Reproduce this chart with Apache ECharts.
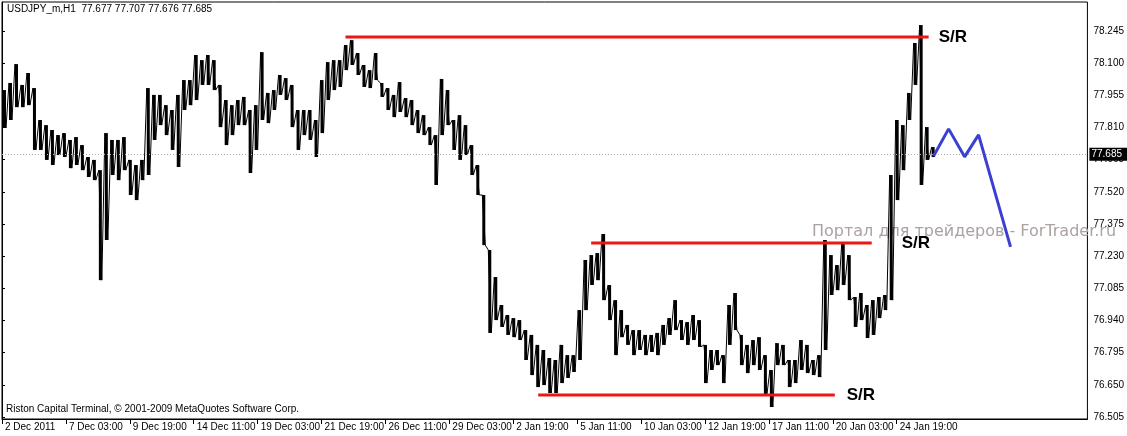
<!DOCTYPE html>
<html>
<head>
<meta charset="utf-8">
<title>USDJPY_m,H1</title>
<script src="https://cdn.jsdelivr.net/npm/echarts@6/dist/echarts.min.js"></script>
<style>
  html, body { margin: 0; padding: 0; background: #fff; }
  #chart { width: 1127px; height: 436px; }
</style>
</head>
<body>
<div id="chart"></div>
<script>
// H1 bars, sampled in blocks of 6 bars: high and low of each block
var STEP = 6;
var blockHigh = [
  77.979, 78.011, 78.096, 78.002, 78.056, 77.988, 77.844, 77.821, 77.799, 77.776,
  77.785, 77.754, 77.767, 77.731, 77.677, 77.664, 77.618, 77.785, 77.754, 77.754,
  77.767, 77.664, 77.641, 77.664, 77.988, 77.957, 77.957, 77.911, 77.889, 77.957,
  78.024, 78.024, 78.137, 78.114, 78.137, 78.114, 78.002, 77.934, 77.911, 77.934,
  77.948, 77.889, 77.911, 78.150, 77.966, 77.979, 78.047, 78.033, 78.002, 77.889,
  77.889, 77.889, 77.844, 78.024, 78.105, 78.114, 78.114, 78.182, 78.204, 78.146,
  78.092, 78.069, 78.146, 78.011, 77.988, 77.957, 78.015, 77.943, 77.934, 77.889,
  77.866, 77.812, 77.776, 78.029, 77.979, 77.844, 77.866, 77.821, 77.731, 77.641,
  77.506, 77.258, 77.136, 77.010, 76.965, 76.951, 76.942, 76.897, 76.875, 76.830,
  76.807, 76.771, 76.762, 76.830, 76.784, 76.784, 76.987, 77.213, 77.235, 77.244,
  77.330, 77.100, 77.032, 76.987, 76.920, 76.897, 76.897, 76.875, 76.875, 76.884,
  76.920, 76.951, 77.032, 76.942, 76.933, 76.965, 76.942, 76.830, 76.807, 76.807,
  76.784, 77.010, 77.064, 76.875, 76.830, 76.852, 76.865, 76.784, 76.717, 76.838,
  76.830, 76.762, 76.762, 76.852, 76.830, 76.762, 76.784, 77.303, 77.235, 77.190,
  77.289, 77.235, 77.046, 77.064, 77.010, 77.032, 77.046, 77.055, 77.596, 77.844,
  77.821, 77.966, 78.191, 78.272, 77.812, 77.722
];
var blockLow = [
  77.808, 77.844, 77.902, 77.902, 77.911, 77.709, 77.709, 77.664, 77.641, 77.686,
  77.677, 77.627, 77.641, 77.618, 77.587, 77.573, 77.122, 77.303, 77.596, 77.573,
  77.618, 77.506, 77.483, 77.573, 77.596, 77.754, 77.821, 77.776, 77.709, 77.632,
  77.889, 77.911, 77.934, 78.002, 78.002, 77.979, 77.812, 77.731, 77.776, 77.821,
  77.821, 77.605, 77.709, 77.844, 77.830, 77.889, 77.957, 77.934, 77.812, 77.709,
  77.776, 77.754, 77.677, 77.785, 77.934, 77.979, 77.993, 78.069, 78.092, 78.047,
  77.993, 77.988, 78.024, 77.948, 77.889, 77.857, 77.880, 77.857, 77.821, 77.785,
  77.776, 77.731, 77.551, 77.776, 77.821, 77.709, 77.664, 77.686, 77.596, 77.506,
  77.280, 76.884, 76.942, 76.911, 76.875, 76.865, 76.852, 76.762, 76.694, 76.640,
  76.649, 76.613, 76.613, 76.658, 76.681, 76.708, 76.762, 76.987, 77.100, 77.122,
  77.032, 76.942, 76.784, 76.865, 76.830, 76.784, 76.807, 76.784, 76.798, 76.784,
  76.830, 76.875, 76.897, 76.852, 76.830, 76.852, 76.821, 76.658, 76.717, 76.739,
  76.658, 76.830, 76.897, 76.739, 76.703, 76.739, 76.717, 76.604, 76.550, 76.739,
  76.739, 76.640, 76.658, 76.717, 76.703, 76.694, 76.685, 76.807, 77.055, 77.077,
  77.100, 77.032, 76.911, 76.942, 76.861, 76.875, 76.951, 76.987, 77.032, 77.483,
  77.618, 77.844, 78.002, 77.551, 77.664, 77.677
];
var lastBar = 933;
var lastClose = 77.685;
var headerText = 'USDJPY_m,H1  77.677 77.707 77.676 77.685';

// forecast (blue) path
var forecastBars = [933, 948, 964, 978, 1010];
var forecastPrices = [77.682, 77.804, 77.678, 77.777, 77.272];

// support / resistance levels
var srPrices = [78.218, 77.289, 76.604];
var srStart = [344, 590, 537];
var srEnd = [928, 871, 834];
var srGap = [10, 30, 12];

// axes
var timeLabels = ['2 Dec 2011', '7 Dec 03:00', '9 Dec 19:00', '14 Dec 11:00', '19 Dec 03:00',
  '21 Dec 19:00', '26 Dec 11:00', '29 Dec 03:00', '2 Jan 19:00', '5 Jan 11:00',
  '10 Jan 03:00', '12 Jan 19:00', '17 Jan 11:00', '20 Jan 03:00', '24 Jan 19:00'];
var barsPerLabel = 64;
var priceTicks = [76.505, 76.650, 76.795, 76.940, 77.085, 77.230, 77.375, 77.520,
  77.665, 77.810, 77.955, 78.100, 78.245];

var chart = echarts.init(document.getElementById('chart'));

// price path: high then low of every block
var pricePath = [];
for (var k = 0; k < blockHigh.length; k++) {
  pricePath.push([k * STEP + 1, blockHigh[k]]);
  pricePath.push([k * STEP + 4, blockLow[k]]);
}
pricePath.push([lastBar, lastClose]);

var blockRange = blockHigh.map(function (h, k) { return [k * STEP + 1, h, blockLow[k]]; });

var timeTickValues = timeLabels.map(function (t, i) { return i * barsPerLabel; });

var series = [];
// block high-low ranges
series.push({
  type: 'custom',
  data: blockRange,
  encode: { x: 0, y: [1, 2] },
  clip: true,
  z: 3,
  renderItem: function (params, api) {
    var top = api.coord([api.value(0), api.value(1)]);
    var bot = api.coord([api.value(0) + 3, api.value(2)]);
    return {
      type: 'rect',
      shape: { x: top[0], y: top[1], width: bot[0] - top[0], height: bot[1] - top[1] },
      style: { fill: '#000' }
    };
  }
});
series.push({
  type: 'line',
  data: pricePath,
  symbol: 'none',
  lineStyle: { color: '#000', width: 1 },
  z: 3,
  markLine: {
    silent: true,
    symbol: 'none',
    lineStyle: { type: [1, 2], color: '#b4acbc', width: 1 },
    label: {
      show: true, position: 'end', distance: 2,
      formatter: lastClose.toFixed(3),
      color: '#fff', backgroundColor: '#000',
      fontFamily: 'Liberation Sans', fontSize: 10,
      padding: [2, 6, 1, 2]
    },
    data: [{ yAxis: lastClose }]
  }
});

srPrices.forEach(function (p, i) {
  series.push({
    type: 'line',
    symbol: 'none',
    lineStyle: { color: '#f01414', width: 3 },
    z: 4,
    endLabel: {
      show: true, distance: srGap[i],
      formatter: 'S/R', color: '#000',
      fontFamily: 'Liberation Sans', fontWeight: 'bold', fontSize: 17
    },
    data: [[srStart[i], p], [srEnd[i], p]]
  });
});

series.push({
  type: 'line',
  symbol: 'none',
  lineStyle: { color: '#3c40d2', width: 3 },
  z: 5,
  data: forecastBars.map(function (b, i) { return [b, forecastPrices[i]]; })
});

chart.setOption({
  animation: false,
  backgroundColor: '#fff',
  grid: {
    left: 2, right: 38, top: 2, bottom: 17,
    show: true, borderColor: '#000', borderWidth: 1
  },
  xAxis: {
    type: 'value',
    min: 0, max: 1087,
    splitLine: { show: false },
    axisLine: { lineStyle: { color: '#000' } },
    axisTick: { show: true, customValues: timeTickValues, length: 5, lineStyle: { color: '#000' } },
    axisLabel: {
      customValues: timeTickValues,
      align: 'left', margin: 3, padding: [0, 0, 0, 3],
      color: '#000', fontFamily: 'Liberation Sans', fontSize: 10,
      formatter: function (v) { return timeLabels[Math.round(v / barsPerLabel)] || ''; }
    }
  },
  yAxis: {
    type: 'value',
    position: 'right',
    min: 76.496, max: 78.376,
    splitLine: { show: false },
    axisLine: { show: true, lineStyle: { color: '#000' } },
    axisTick: { show: true, customValues: priceTicks, length: 3, lineStyle: { color: '#000' } },
    axisLabel: {
      customValues: priceTicks,
      margin: 6,
      color: '#000', fontFamily: 'Liberation Sans', fontSize: 10,
      formatter: function (v) { return v.toFixed(3); }
    }
  },
  graphic: [
    {
      type: 'text', left: 812, top: 224, z: 1, silent: true,
      style: { text: 'Портал для трейдеров - ForTrader.ru', fill: '#aca2a2',
        font: '16px "DejaVu Sans"' }
    },
    {
      type: 'text', left: 7, top: 4, z: 10,
      style: { text: headerText, fill: '#000', font: '10px "Liberation Sans"' }
    },
    {
      type: 'text', left: 6, top: 404, z: 10,
      style: { text: 'Riston Capital Terminal, © 2001-2009 MetaQuotes Software Corp.',
        fill: '#000', font: '10px "Liberation Sans"' }
    }
  ],
  series: series
});
</script>
</body>
</html>
